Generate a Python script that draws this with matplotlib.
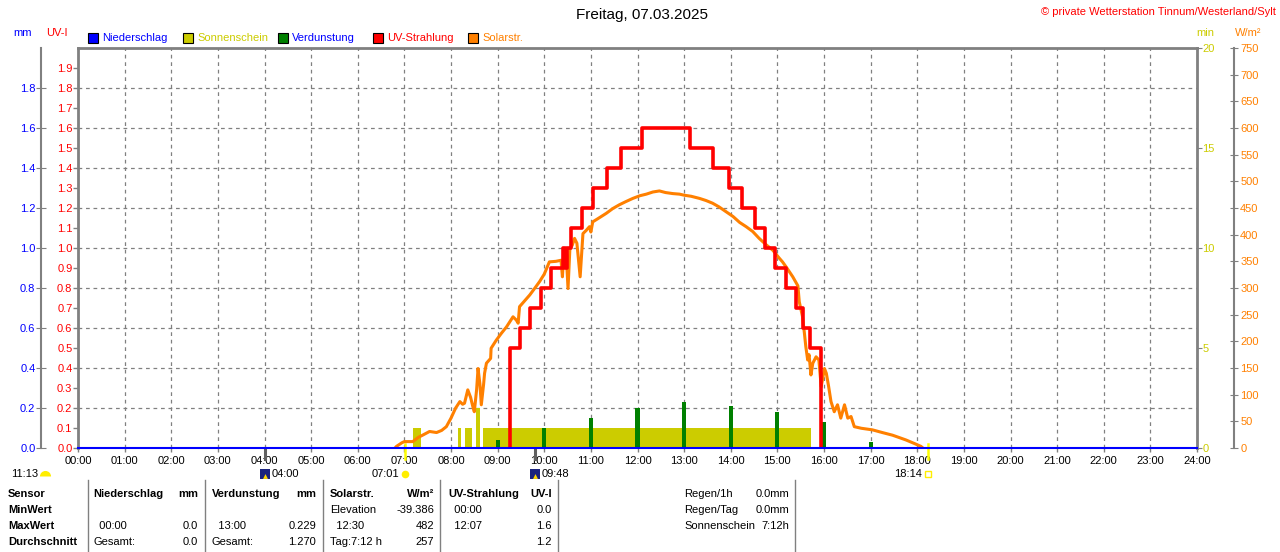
import matplotlib
matplotlib.use('Agg')
import matplotlib.pyplot as plt
from matplotlib.patches import Rectangle
from matplotlib.lines import Line2D
from matplotlib.ticker import FormatStrFormatter
import matplotlib.transforms as mtransforms

plt.rcParams['font.family'] = ['Liberation Sans', 'DejaVu Sans']
plt.rcParams['font.size'] = 8

# ------------------------------------------
# data
# ------------------------------------------
hours = list(range(25))
hour_labels = ['%02d:00' % h for h in hours]

# UV index, step values (value valid from time on)
uv_t = [9.26, 9.26, 9.47, 9.69, 9.93, 10.15, 10.40, 10.44, 10.48, 10.58, 10.81, 11.04,
        11.34, 11.65, 12.10, 13.13, 13.61, 13.96, 14.24, 14.51, 14.73, 14.95, 15.18,
        15.39, 15.54, 15.70, 15.94]
uv_v = [0.0, 0.5, 0.6, 0.7, 0.8, 0.9, 1.0, 0.9, 1.0, 1.1, 1.2, 1.3,
        1.4, 1.5, 1.6, 1.5, 1.4, 1.3, 1.2, 1.1, 1.0, 0.9, 0.8,
        0.7, 0.6, 0.5, 0.0]

# solar radiation W/m2
solar_t = [6.80, 6.83, 6.95, 7.00, 7.18, 7.30, 7.39, 7.54, 7.69, 7.80, 7.90, 8.00, 8.10,
           8.19, 8.25, 8.29, 8.36, 8.42, 8.47, 8.50, 8.55, 8.58, 8.62, 8.65, 8.70, 8.72,
           8.76, 8.82, 8.85, 8.86, 8.97, 9.08, 9.19, 9.33, 9.40, 9.44, 9.47, 9.58, 9.69,
           9.80, 9.90, 10.00, 10.11, 10.25, 10.36, 10.39, 10.42, 10.47, 10.51, 10.55,
           10.60, 10.65, 10.70, 10.77, 10.83, 10.90, 10.97, 11.00, 11.04, 11.15, 11.33,
           11.47, 11.61, 11.75, 11.90, 12.05, 12.19, 12.33, 12.47, 12.60, 12.76, 12.90,
           13.00, 13.15, 13.33, 13.47, 13.61, 13.75, 13.90, 14.05, 14.19, 14.33, 14.47,
           14.61, 14.76, 14.90, 15.04, 15.11, 15.20, 15.33, 15.44, 15.47, 15.54, 15.58,
           15.61, 15.65, 15.68, 15.72, 15.76, 15.83, 15.89, 15.94, 16.01, 16.05, 16.10,
           16.15, 16.22, 16.29, 16.36, 16.44, 16.51, 16.58, 16.65, 16.80, 17.04, 17.25,
           17.47, 17.60, 17.76, 17.95, 18.08, 18.12]
solar_w = [0, 3, 10, 12, 12, 20, 24, 31, 29, 33, 40, 56, 75,
           87, 82, 84, 109, 95, 77, 68, 110, 149, 120, 81, 120, 140,
           159, 165, 168, 187, 202, 215, 227, 246, 240, 234, 265, 276, 287,
           300, 312, 326, 349, 350, 352, 321, 370, 365, 299, 374,
           380, 393, 384, 321, 402, 408, 415, 405, 424, 430, 440,
           449, 456, 462, 468, 473, 476, 480, 482, 479, 477, 476,
           474, 472, 468, 464, 459, 452, 443, 434, 423, 415, 406,
           393, 381, 371, 356, 349, 338, 321, 304, 274, 246, 215,
           190, 165, 175, 137, 159, 171, 165, 115, 149, 140, 115,
           87, 68, 81, 56, 81, 56, 59, 40, 37, 34, 29,
           24, 20, 15, 8, 3, 0]

# sunshine minutes
sun_start = [7.19, 8.15, 8.29, 8.53, 8.69]
sun_end = [7.36, 8.22, 8.46, 8.63, 15.72]
sun_min = [1, 1, 1, 2, 1]

# evaporation mm
evap_t = [9, 10, 11, 12, 13, 14, 15, 16, 17]
evap_mm = [0.04, 0.10, 0.15, 0.20, 0.229, 0.21, 0.18, 0.13, 0.03]

# precipitation mm
rain_t = [0, 24]
rain_mm = [0.0, 0.0]

# sun / moon events
sun_ev_t = [7.017, 18.233]
sun_ev_lab = ['07:01', '18:14']
moon_ev_t = [4.0, 9.8]
moon_ev_lab = ['04:00', '09:48']

# colours
GREY = '#808080'
BLUE = '#0000FF'
OLIVE = '#CCCC00'
GREEN = '#008000'
RED = '#FF0000'
ORANGE = '#FF8000'

W, H = 1280, 552
fig = plt.figure(figsize=(12.8, 5.52), dpi=100)


def fx(px):
    return px / W


def fy(py):
    return 1 - py / H


rect = [fx(78), fy(448), fx(1197) - fx(78), fy(48) - fy(448)]
ax = fig.add_axes(rect)
ax.set_xlim(0, 24)
ax.set_ylim(0, 2.0)
ax.set_xticks(hours)
ax.set_xticklabels(hour_labels)
ax.set_yticks([i / 10 for i in range(0, 19, 2)])
ax.set_yticks([i / 10 for i in range(1, 20, 2)], minor=True)
ax.yaxis.set_major_formatter(FormatStrFormatter('%.1f'))
ax.yaxis.set_minor_formatter(FormatStrFormatter('%.1f'))
ax.tick_params(axis='y', which='both', direction='out', length=3.5, width=1,
               color=GREY, labelcolor=RED, pad=0.5, labelsize=8)
ax.tick_params(axis='x', direction='out', length=3, width=1, color=GREY,
               labelcolor='black', pad=3, labelsize=8)
ax.grid(True, which='major', color=GREY, linestyle=(0, (3, 3)), linewidth=0.9)
for s in ['left', 'top', 'right']:
    ax.spines[s].set_color(GREY)
    ax.spines[s].set_linewidth(2)
ax.spines['bottom'].set_visible(False)

# sunshine (min)
ax_sun = ax.twinx()
ax_sun.set_ylim(0, 20)
ax_sun.set_yticks([0, 5, 10, 15, 20])
ax_sun.tick_params(axis='y', direction='out', length=3.5, color=GREY,
                   labelcolor=OLIVE, pad=0.5, labelsize=8)
for s in ax_sun.spines.values():
    s.set_visible(False)
ax_sun.bar(sun_start, sun_min, width=[e - s for s, e in zip(sun_start, sun_end)],
           align='edge', color=OLIVE, linewidth=0)

# evaporation (mm), left outer axis
ax_mm = ax.twinx()
ax_mm.yaxis.tick_left()
ax_mm.set_ylim(0, 2.0)
ax_mm.set_yticks([i / 10 for i in range(0, 19, 2)])
ax_mm.yaxis.set_major_formatter(FormatStrFormatter('%.1f'))
for s in ax_mm.spines.values():
    s.set_visible(False)
ax_mm.spines['left'].set_visible(True)
ax_mm.spines['left'].set_position(('outward', 37 * 0.72))
ax_mm.spines['left'].set_color(GREY)
ax_mm.spines['left'].set_linewidth(1.5)
ax_mm.tick_params(axis='y', direction='inout', length=7, color=GREY,
                  labelcolor=BLUE, pad=0.5, labelsize=8)
ax_mm.bar(evap_t, evap_mm, width=0.09, color=GREEN, linewidth=0)

# solar radiation (W/m2), right outer axis
ax_w = ax.twinx()
ax_w.set_ylim(0, 750)
ax_w.set_yticks(list(range(0, 751, 50)))
for s in ax_w.spines.values():
    s.set_visible(False)
ax_w.spines['right'].set_visible(True)
ax_w.spines['right'].set_position(('outward', 37 * 0.72))
ax_w.spines['right'].set_color(GREY)
ax_w.spines['right'].set_linewidth(1.5)
ax_w.tick_params(axis='y', direction='inout', length=6, color=GREY,
                 labelcolor=ORANGE, pad=1.5, labelsize=8)
ax_w.plot(solar_t, solar_w, color=ORANGE, lw=2.2, solid_joinstyle='round')

# UV index + precipitation on top
ax_uv = ax.twinx()
ax_uv.set_ylim(0, 2.0)
ax_uv.set_yticks([])
for s in ax_uv.spines.values():
    s.set_visible(False)
ax_uv.plot(uv_t, uv_v, color=RED, lw=2.6, drawstyle='steps-post')
ax_uv.plot(rain_t, rain_mm, color=BLUE, lw=1.5, clip_on=False)

# sun / moon event marks below the time axis
xtr = ax.get_xaxis_transform()
lab_y = -0.066
for t, lab in zip(moon_ev_t, moon_ev_lab):
    ax.plot([t, t], [0, -0.027], transform=xtr, clip_on=False, color='#606060', lw=2.2)
    ax.plot([t], [lab_y], transform=xtr, clip_on=False, marker='s', markersize=7,
            color='#1a237e', markeredgewidth=0)
    ax.plot([t], [lab_y - 0.004], transform=xtr, clip_on=False, marker='^', markersize=3.5,
            color='#FFD700', markeredgewidth=0)
    ax.text(t, lab_y, lab, transform=mtransforms.offset_copy(xtr, fig=fig, x=7, units='dots'),
            ha='left', va='center', fontsize=8)
for t, lab in zip(sun_ev_t, sun_ev_lab):
    ax.plot([t, t], [0.01, -0.027], transform=xtr, clip_on=False, color='#FFFF00', lw=1.8)
    ax.text(t, lab_y, lab, transform=mtransforms.offset_copy(xtr, fig=fig, x=-6, units='dots'),
            ha='right', va='center', fontsize=8)
ax.plot([sun_ev_t[0]], [lab_y], transform=xtr, clip_on=False, marker='o', markersize=5.5,
        color='#FFEE00', markeredgewidth=0)
ax.plot([sun_ev_t[1]], [lab_y], transform=xtr, clip_on=False, marker='s', markersize=4.5,
        markerfacecolor='none', markeredgecolor='#FFEE00', markeredgewidth=1)

fig.text(fx(38), fy(474), '11:13', ha='right', va='center', fontsize=8)
fig.add_artist(Line2D([fx(45)], [fy(476)], marker='o', fillstyle='top', markersize=8,
                      color='#FFEE00', markeredgewidth=0, markerfacecoloralt='none',
                      transform=fig.transFigure))

# ------------------------------------------
# header texts and legend
# ------------------------------------------
fig.text(fx(642), fy(15), 'Freitag, 07.03.2025', ha='center', va='center', fontsize=11)
fig.text(fx(1276), fy(12), '\u00a9 private Wetterstation Tinnum/Westerland/Sylt',
         ha='right', va='center', color=RED, fontsize=8)
fig.text(fx(23), fy(33), 'mm', ha='center', va='center', color=BLUE, fontsize=8)
fig.text(fx(57), fy(33), 'UV-I', ha='center', va='center', color=RED, fontsize=8)
fig.text(fx(1205), fy(33), 'min', ha='center', va='center', color=OLIVE, fontsize=8)
fig.text(fx(1248), fy(33), 'W/m\u00b2', ha='center', va='center', color=ORANGE, fontsize=8)

legend_names = ['Niederschlag', 'Sonnenschein', 'Verdunstung', 'UV-Strahlung', 'Solarstr.']
legend_box = [BLUE, OLIVE, GREEN, RED, ORANGE]
legend_text = [BLUE, OLIVE, BLUE, RED, ORANGE]
for i, name in enumerate(legend_names):
    x0 = 88 + 95 * i
    fig.add_artist(Rectangle((fx(x0), fy(43)), 10 / W, 10 / H, transform=fig.transFigure,
                             facecolor=legend_box[i], edgecolor='black', lw=0.8))
    fig.text(fx(x0 + 14), fy(38), name, ha='left', va='center',
             color=legend_text[i], fontsize=8)

# ------------------------------------------
# statistics table
# ------------------------------------------
row_y = [494, 510, 526, 542]
row_labels = ['Sensor', 'MinWert', 'MaxWert', 'Durchschnitt']
col_left = [93, 212, 330, 448]
col_right = [198, 316, 434, 552]
col_head = [('Niederschlag', 'mm'), ('Verdunstung', 'mm'), ('Solarstr.', 'W/m\u00b2'),
            ('UV-Strahlung', 'UV-I')]
col_cells = [
    [('', ''), ('  00:00', '0.0'), ('Gesamt:', '0.0')],
    [('', ''), ('  13:00', '0.229'), ('Gesamt:', '1.270')],
    [('Elevation', '-39.386'), ('  12:30', '482'), ('Tag:7:12 h', '257')],
    [('  00:00', '0.0'), ('  12:07', '1.6'), ('', '1.2')],
]
separators = [88, 205, 323, 440, 558, 795]
regen_labels = ['Regen/1h', 'Regen/Tag', 'Sonnenschein']
regen_values = ['0.0mm', '0.0mm', '7:12h']

for y, lab in zip(row_y, row_labels):
    fig.text(fx(8), fy(y), lab, ha='left', va='center', fontsize=8, fontweight='bold')
for i in range(len(col_left)):
    fig.text(fx(col_left[i]), fy(row_y[0]), col_head[i][0], ha='left', va='center',
             fontsize=8, fontweight='bold')
    fig.text(fx(col_right[i]), fy(row_y[0]), col_head[i][1], ha='right', va='center',
             fontsize=8, fontweight='bold')
    for r, (left, right) in enumerate(col_cells[i]):
        fig.text(fx(col_left[i]), fy(row_y[r + 1]), left, ha='left', va='center', fontsize=8)
        fig.text(fx(col_right[i]), fy(row_y[r + 1]), right, ha='right', va='center', fontsize=8)
for r in range(3):
    fig.text(fx(684), fy(row_y[r]), regen_labels[r], ha='left', va='center', fontsize=8)
    fig.text(fx(789), fy(row_y[r]), regen_values[r], ha='right', va='center', fontsize=8)
for xs in separators:
    fig.add_artist(Line2D([fx(xs), fx(xs)], [fy(480), fy(552)], color=GREY, lw=1,
                          transform=fig.transFigure))

fig.savefig('out.png', dpi=100)
